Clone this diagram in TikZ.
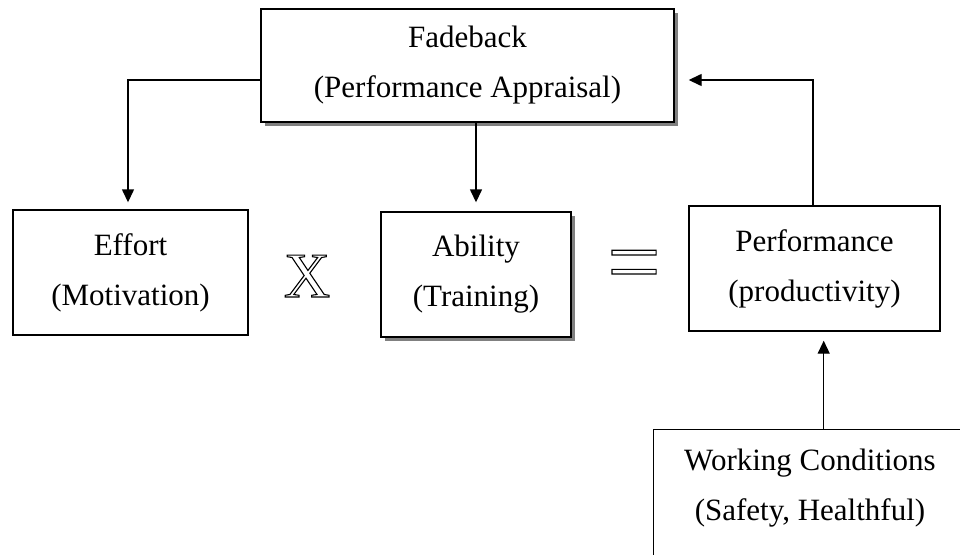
\documentclass[tikz,border=0pt]{standalone}
\usepackage{fontspec}
\setmainfont{Liberation Serif}
\usetikzlibrary{arrows.meta,shadows}
\newcommand{\outlinetext}[1]{\special{pdf:literal direct 1 Tr 1.1 w}#1\special{pdf:literal direct 0 Tr}}
\begin{document}
\begin{tikzpicture}[x=1pt,y=-1pt,
  box/.style={draw=black, line width=1.4pt, fill=white, align=center, inner sep=0pt,
    font=\fontsize{31}{50}\selectfont},
  shbox/.style={box, drop shadow={shadow xshift=3.5pt, shadow yshift=-3.5pt, fill=gray, opacity=1}},
  txt/.style={align=center, inner sep=0pt, font=\fontsize{31}{50}\selectfont},
  arr/.style={line width=1.4pt, -{Triangle[length=13pt,width=12pt]}},
  sym/.style={inner sep=0pt}
]
\useasboundingbox (0,0) rectangle (960,554);
\clip (0,0) rectangle (960,554);
\fill[white] (0,0) rectangle (960,554);

\node[shbox, minimum width=413pt, minimum height=113pt] (fb) at (467.5,65.5) {Fadeback\\(Performance Appraisal)};
\node[box, minimum width=235pt, minimum height=125pt] (ef) at (130.5,272.5) {Effort\\(Motivation)};
\node[shbox, minimum width=190pt, minimum height=125pt] (ab) at (476,274.5) {Ability\\(Training)};
\node[box, minimum width=251pt, minimum height=125pt] (pf) at (814.5,268.5) {Performance\\(productivity)};
\node[box, minimum width=340pt, minimum height=150pt, anchor=north west] (wc) at (653,429) {};
\node[txt] (wct) at (810,488) {Working Conditions\\(Safety, Healthful)};

\draw[arr, shorten >=7pt] ([yshift=-14.5pt]fb.west) -| ([xshift=-2.5pt]ef.north);
\draw[arr, shorten >=9pt] (fb.south -| ab.north) -- (ab.north);
\draw[arr, shorten >=14pt] ([xshift=-1.5pt]pf.north) |- ([yshift=-14.5pt]fb.east);
\draw[arr, shorten >=9pt] (wc.north) -- (wc.north |- pf.south);

\node[sym, font=\fontsize{64}{64}\selectfont] (times) at (307,276) {\outlinetext{X}};
\node[sym, font=\fontsize{95}{95}\selectfont] (eq) at (634,272) {\outlinetext{=}};
\end{tikzpicture}
\end{document}
